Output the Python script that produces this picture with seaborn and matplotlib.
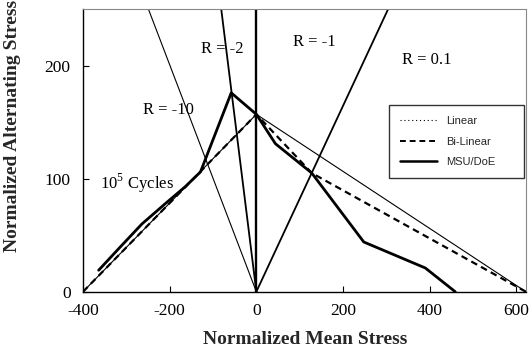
import matplotlib
matplotlib.use("Agg")
import matplotlib.pyplot as plt
import numpy as np
import pandas as pd
import seaborn as sns
from matplotlib.lines import Line2D

# MSU/DoE constant-life curve at 10^5 cycles
msu_mean = [-364, -318, -264, -210, -164, -129, -58, 0, 44, 128, 248, 390, 459]
msu_alt = [19, 38, 60, 78, 93, 106, 176, 157, 131, 105, 44, 21, 0]

# Bi-linear Goodman approximation
bilin_mean = [-400, 0, 128, 622]
bilin_alt = [0, 157, 105, 0]

# Linear Goodman approximation
lin_mean = [-400, 0, 622]
lin_alt = [0, 157, 0]

# Constant R-ratio rays from the origin: mean stress where each ray reaches the top
r_labels = ["R = -10", "R = -2", "R = -1", "R = 0.1"]
r_top_mean = [-249, -81, 0, 304]
r_label_mean = [-203, -78, 134, 393]
r_label_alt = [161, 215, 221, 205]

x_ticks = [-400, -200, 0, 200, 400, 600]
y_ticks = [0, 100, 200]

sns.set_theme(style="white")
plt.rcParams["font.family"] = ["Liberation Serif", "DejaVu Serif"]
plt.rcParams["mathtext.fontset"] = "custom"
plt.rcParams["mathtext.rm"] = "Liberation Serif"

fig = plt.figure(figsize=(5.29, 3.56), dpi=100)
ax = fig.add_axes([0.157, 0.1806, 0.837, 0.7934])

y_top = 250
ray_widths = [0.8, 1.3, 1.7, 1.3]
for top_m, lw in zip(r_top_mean, ray_widths):
    ray = pd.DataFrame({"m": [0, top_m], "a": [0, y_top]})
    sns.lineplot(data=ray, x="m", y="a", ax=ax, color="black", lw=lw,
                 sort=False, estimator=None)

lin_df = pd.DataFrame({"m": lin_mean, "a": lin_alt})
sns.lineplot(data=lin_df, x="m", y="a", ax=ax, color="black", lw=0.8,
             sort=False, estimator=None)

bil_df = pd.DataFrame({"m": bilin_mean, "a": bilin_alt})
sns.lineplot(data=bil_df, x="m", y="a", ax=ax, color="black", lw=1.6,
             dashes=False, sort=False, estimator=None, linestyle=(0, (3, 2)))

msu_df = pd.DataFrame({"m": msu_mean, "a": msu_alt})
sns.lineplot(data=msu_df, x="m", y="a", ax=ax, color="black", lw=2.0,
             sort=False, estimator=None)

for lab, xm, ya in zip(r_labels, r_label_mean, r_label_alt):
    ax.text(xm, ya, lab, ha="center", va="center", fontsize=12, color="black")
ax.text(-275, 96, r"10$^5$ Cycles", ha="center", va="center", fontsize=12,
        color="black")

ax.set_xlim(-400, 622)
ax.set_ylim(0, y_top)
ax.set_xticks(x_ticks)
ax.set_yticks(y_ticks)
ax.set_xticklabels([str(v) for v in x_ticks])
ax.set_yticklabels([str(v) for v in y_ticks])
ax.tick_params(axis="both", direction="in", length=4, width=0.8,
               labelsize=12.5, colors="black", bottom=True, left=True)
ax.tick_params(axis="x", pad=8)
ax.tick_params(axis="y", pad=9)
ax.set_xlabel("")
ax.set_ylabel("")
for side in ["left", "bottom"]:
    ax.spines[side].set_color("black")
    ax.spines[side].set_linewidth(1.0)
for side in ["top", "right"]:
    ax.spines[side].set_color("#888888")
    ax.spines[side].set_linewidth(0.8)

fig.text(0.577, 0.045, "Normalized Mean Stress", ha="center", va="center",
         fontsize=14, fontweight="bold")
fig.text(0.024, 0.645, "Normalized Alternating Stress", ha="center",
         va="center", rotation=90, fontsize=14, fontweight="bold")

handles = [
    Line2D([], [], color="black", lw=0.8, linestyle=(0, (1, 2.5))),
    Line2D([], [], color="black", lw=1.4, linestyle=(0, (3, 2))),
    Line2D([], [], color="black", lw=1.8),
]
leg = ax.legend(handles, ["Linear", "Bi-Linear", "MSU/DoE"],
                loc="upper left", bbox_to_anchor=(0.691, 0.384, 0.304, 0.277),
                mode="expand", borderaxespad=0, frameon=True, fancybox=False,
                prop={"family": "Liberation Sans", "size": 8},
                handlelength=3.3, handletextpad=0.85, labelspacing=0.95,
                borderpad=1.0)
leg.get_frame().set_edgecolor("black")
leg.get_frame().set_linewidth(1.0)

fig.savefig("out.png", dpi=100)
